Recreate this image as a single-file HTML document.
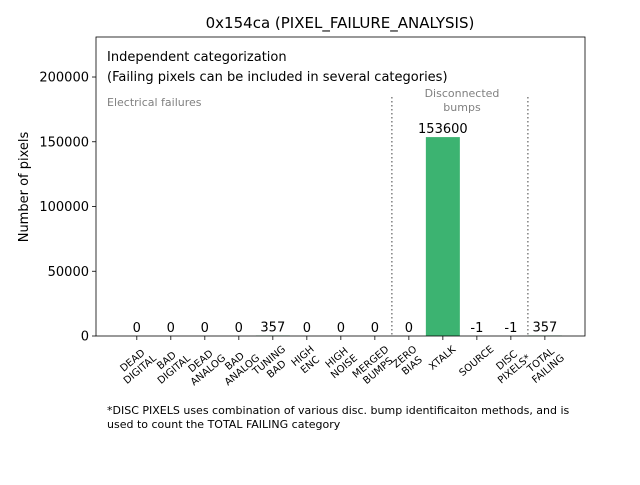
<!DOCTYPE html>
<html><head><meta charset="utf-8"><style>
body{margin:0;background:#fff;}
svg{font-family:"DejaVu Sans","Liberation Sans",sans-serif;}
</style></head><body>
<svg id="chart" width="640" height="480">
<rect x="0" y="0" width="640" height="480" fill="#fff"/>
<text x="340" y="28" font-size="15" text-anchor="middle">0x154ca (PIXEL_FAILURE_ANALYSIS)</text>
<g id="plot"></g>
<text x="107" y="61" font-size="13">Independent categorization</text>
<text x="107" y="81" font-size="13">(Failing pixels can be included in several categories)</text>
<text x="107" y="106" font-size="11" fill="#808080">Electrical failures</text>
<text x="462" y="97" font-size="11" fill="#808080" text-anchor="middle"><tspan x="462">Disconnected</tspan><tspan x="462" dy="14">bumps</tspan></text>
<text x="28" y="187" font-size="13" text-anchor="middle" transform="rotate(-90 28 187)">Number of pixels</text>
<text x="107" y="414" font-size="11"><tspan x="107">*DISC PIXELS uses combination of various disc. bump identificaiton methods, and is</tspan><tspan x="107" dy="14">used to count the TOTAL FAILING category</tspan></text>
</svg>
<script>
const categories=[["DEAD","DIGITAL"],["BAD","DIGITAL"],["DEAD","ANALOG"],["BAD","ANALOG"],["TUNING","BAD"],["HIGH","ENC"],["HIGH","NOISE"],["MERGED","BUMPS"],["ZERO","BIAS"],["XTALK"],["SOURCE"],["DISC","PIXELS*"],["TOTAL","FAILING"]];
const values=[0,0,0,0,357,0,0,0,0,153600,-1,-1,357];
const yTicks=[0,50000,100000,150000,200000];
const separators=[7.5,11.5];
const NS="http://www.w3.org/2000/svg";
const L=96,R=585,T=37,B=336;
const x0=-1.2,x1=13.18,yMax=230900;
const xs=v=>L+(v-x0)/(x1-x0)*(R-L);
const ys=v=>B-v/yMax*(B-T);
const g=document.getElementById('plot');
function mk(t,a,p){const e=document.createElementNS(NS,t);for(const k in a)e.setAttribute(k,a[k]);(p||g).appendChild(e);return e;}
const bw=xs(0.5)-xs(-0.5);
values.forEach((v,i)=>{
  const h=Math.max(0,v);
  const r=mk('rect',{x:xs(i)-bw/2,y:ys(h),width:bw,height:ys(0)-ys(h),fill:'#3cb371'});
  
  
  const t=mk('text',{x:xs(i),y:ys(h)-4,'font-size':13,'text-anchor':'middle'});
  t.textContent=String(v);
  
  
  mk('line',{x1:xs(i),x2:xs(i),y1:B,y2:B+4,stroke:'#000','stroke-width':0.8});
  const outer=mk('g',{});
  const inner=mk('g',{transform:'rotate(-40)'},outer);
  const lt=mk('text',{'font-size':10,'text-anchor':'middle'},inner);
  
  
  const lines=categories[i];
  lines.forEach((s,j)=>{const ts=document.createElementNS(NS,'tspan');ts.setAttribute('x',0);ts.setAttribute('y',(j-(lines.length-1)/2)*11.5+3.5);ts.textContent=s;lt.appendChild(ts);});
  const bb=outer.getBoundingClientRect();
  const cx=(bb.left+bb.right)/2;
  outer.setAttribute('transform',`translate(${xs(i)-cx},${B+8-bb.top})`);
});
separators.forEach((s,i)=>{
  const l=mk('line',{x1:xs(s),x2:xs(s),y1:97,y2:B,stroke:'#808080','stroke-width':1.5,'stroke-dasharray':'1.5,2.5'});
  
  
});
yTicks.forEach(v=>{
  mk('line',{x1:L-4,x2:L,y1:ys(v),y2:ys(v),stroke:'#000','stroke-width':0.8});
  const t=mk('text',{x:L-7,y:ys(v)+4.5,'font-size':13,'text-anchor':'end'});
  t.textContent=v;
  
  
});
const fr=mk('rect',{x:L,y:T,width:R-L,height:B-T,fill:'none',stroke:'#000','stroke-width':0.8});


</script>
</body></html>
